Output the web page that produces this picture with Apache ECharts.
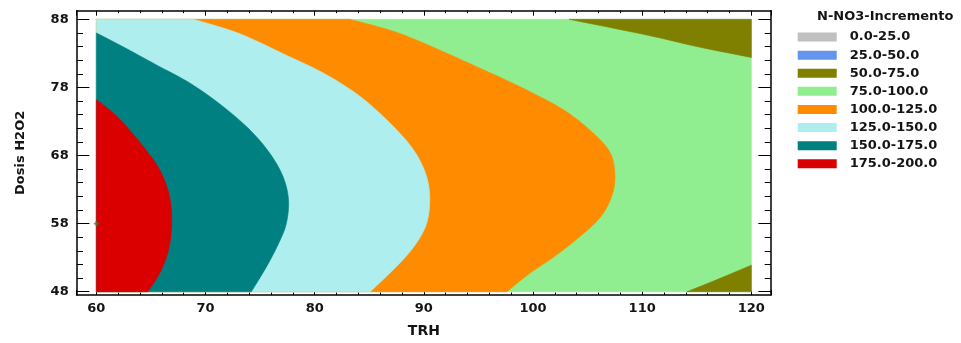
<!DOCTYPE html>
<html>
<head>
<meta charset="utf-8">
<script src="https://cdn.jsdelivr.net/npm/echarts@6/dist/echarts.min.js"></script>
<style>
  html, body { margin: 0; padding: 0; background: #fff; }
  #chart { width: 961px; height: 343px; }
</style>
</head>
<body>
<div id="chart"></div>
<script>
// Response surface of N-NO3 increment over TRH and H2O2 dose, drawn as filled contour bands.

// Legend ranges (N-NO3-Incremento)
const bandNames = ['0.0-25.0', '25.0-50.0', '50.0-75.0', '75.0-100.0',
                   '100.0-125.0', '125.0-150.0', '150.0-175.0', '175.0-200.0'];

// Extent of the studied region
const trhRange = [60, 120];
const dosisRange = [48, 88];

// Contour lines as [TRH, Dosis H2O2] points
const contour175 = [[60, 76.2], [61.2, 74.7], [62.4, 72.9], [64.3, 69.3], [65.8, 65.9],
                    [66.7, 62.0], [66.9, 58.0], [66.6, 54.1], [65.8, 50.7], [64.7, 48]];
const contour150 = [[60, 86.0], [62.4, 84.0], [65.5, 81.3], [68.6, 78.6], [71.6, 75.2],
                    [74.1, 71.7], [75.9, 68.3], [77.1, 64.9], [77.6, 61.5], [77.4, 58.0],
                    [76.7, 55.1], [75.6, 51.7], [74.2, 48]];
const contour125 = [[68.9, 88], [73.1, 85.9], [77.7, 82.5], [80.8, 80.1], [83.8, 77.1],
                    [86.3, 73.7], [88.6, 69.8], [89.9, 66.4], [90.5, 62.9], [90.4, 59.0],
                    [89.7, 56.1], [88.1, 52.7], [85.1, 48]];
const contour100 = [[83.2, 88], [86.9, 86.4], [89.7, 84.7], [94.2, 81.5], [98.8, 78.1],
                    [102.8, 74.7], [105.5, 71.3], [107.1, 68.3], [107.5, 64.9], [107.2, 62.0],
                    [106.2, 59.0], [104.3, 56.1], [101.9, 53.1], [99.7, 50.7], [97.6, 48]];
const contour75Top = [[103.3, 88], [110.4, 85.7], [115.3, 83.9], [120, 82.4]];
const contour75Bottom = [[114.1, 48], [117.2, 50.0], [120, 51.9]];

// Marked design point
const markedPoint = [[60, 58]];

const bandColors = ['#C0C0C0', '#6495ED', '#808000', '#90EE90',
                    '#FF8C00', '#AFEEEE', '#008080', '#DA0000'];

const [xLo, xHi] = trhRange;
const [yLo, yHi] = dosisRange;

// Each region: a contour line (smoothed when drawn) closed through the corners of the region
const regions = {
  '75.0-100.0': [{ curve: [], corners: [[xLo, yLo], [xHi, yLo], [xHi, yHi], [xLo, yHi]] }],
  '50.0-75.0': [{ curve: contour75Top, corners: [[xHi, yHi]] },
                { curve: contour75Bottom, corners: [[xHi, yLo]] }],
  '100.0-125.0': [{ curve: contour100, corners: [[xLo, yLo], [xLo, yHi]] }],
  '125.0-150.0': [{ curve: contour125, corners: [[xLo, yLo], [xLo, yHi]] }],
  '150.0-175.0': [{ curve: contour150, corners: [[xLo, yLo]] }],
  '175.0-200.0': [{ curve: contour175, corners: [[xLo, yLo]] }]
};

const FONT = 'DejaVu Sans';
const INK = '#141414';

// Catmull-Rom smoothing of a pixel polyline
function smoothPixels(pts, steps) {
  if (pts.length < 3) return pts.slice();
  const out = [pts[0]];
  for (let i = 0; i < pts.length - 1; i++) {
    const p0 = pts[Math.max(i - 1, 0)], p1 = pts[i], p2 = pts[i + 1], p3 = pts[Math.min(i + 2, pts.length - 1)];
    for (let s = 1; s <= steps; s++) {
      const t = s / steps, t2 = t * t, t3 = t2 * t;
      const f = (a, b, c, d) => 0.5 * ((2 * b) + (-a + c) * t + (2 * a - 5 * b + 4 * c - d) * t2 + (-a + 3 * b - 3 * c + d) * t3);
      out.push([f(p0[0], p1[0], p2[0], p3[0]), f(p0[1], p1[1], p2[1], p3[1])]);
    }
  }
  return out;
}

function regionSeries(name) {
  const parts = regions[name];
  const color = bandColors[bandNames.indexOf(name)];
  return {
    type: 'custom',
    name: name,
    xAxisIndex: 2,
    yAxisIndex: 2,
    itemStyle: { color: color },
    data: parts.map((_, i) => [i]),
    renderItem: function (params, api) {
      const part = parts[params.dataIndex];
      const curvePx = smoothPixels(part.curve.map(p => api.coord(p)), 8);
      const points = curvePx.concat(part.corners.map(p => api.coord(p)));
      return {
        type: 'polygon',
        shape: { points: points },
        style: { fill: color, stroke: color, lineWidth: 0.6 }
      };
    },
    silent: true,
    animation: false
  };
}

// Drawing order: lowest layer first
const drawOrder = ['75.0-100.0', '50.0-75.0', '100.0-125.0', '125.0-150.0', '150.0-175.0', '175.0-200.0'];
const series = drawOrder.map(regionSeries);
// Ranges with no area in the region still appear in the legend
['0.0-25.0', '25.0-50.0'].forEach(n => {
  series.unshift({
    type: 'custom', name: n, xAxisIndex: 2, yAxisIndex: 2,
    itemStyle: { color: bandColors[bandNames.indexOf(n)] },
    data: [], renderItem: () => null
  });
});
series.push({
  type: 'scatter',
  xAxisIndex: 2,
  yAxisIndex: 2,
  data: markedPoint,
  symbol: 'path://M2,0H4V2H6V4H4V6H2V4H0V2H2Z',
  symbolSize: 5,
  itemStyle: { color: '#2e8b2e' },
  silent: true,
  z: 10
});

const labelStyle = { fontFamily: FONT, fontWeight: 'bold', fontSize: 13, color: INK };
const frameLine = { show: true, onZero: false, lineStyle: { color: '#000', width: 1.5 } };

const chart = echarts.init(document.getElementById('chart'), null, { renderer: 'canvas' });
chart.setOption({
  animation: false,
  backgroundColor: '#fff',
  title: {
    text: 'N-NO3-Incremento',
    left: 817, top: 10, padding: 0,
    textStyle: { fontFamily: FONT, fontWeight: 'bold', fontSize: 13, color: INK }
  },
  legend: {
    orient: 'vertical',
    left: 797.7, top: 28, padding: 0,
    itemWidth: 39, itemHeight: 9, itemGap: 0,
    icon: 'rect',
    selectedMode: false,
    data: bandNames.map((n, i) => ({ name: n, itemStyle: { color: bandColors[i] } })),
    textStyle: { fontFamily: FONT, fontWeight: 'bold', fontSize: 13, color: INK,
                 lineHeight: 18.1, padding: [0, 0, 0, 8] }
  },
  grid: [
    // frame
    { left: 76.7, right: 190, top: 10.7, bottom: 43.7 },
    // studied region (Dosis 48..88)
    { left: 76.7, right: 190, top: 19.3, bottom: 51.3 }
  ],
  xAxis: [
    {
      type: 'value', gridIndex: 0, position: 'bottom',
      min: 58.2, max: 121.8, splitNumber: 6,
      axisLine: frameLine,
      axisTick: { show: true, inside: true, length: 5, lineStyle: { color: '#000', width: 1 } },
      minorTick: { show: true, splitNumber: 5, length: 2.5, lineStyle: { color: '#000', width: 1 } },
      axisLabel: Object.assign({ margin: 7, showMinLabel: false, showMaxLabel: false }, labelStyle),
      splitLine: { show: false },
      name: 'TRH', nameLocation: 'middle', nameGap: 29,
      nameTextStyle: { fontFamily: FONT, fontWeight: 'bold', fontSize: 14, color: INK }
    },
    {
      type: 'value', gridIndex: 0, position: 'top',
      min: 58.2, max: 121.8, splitNumber: 6,
      axisLine: frameLine,
      axisTick: { show: true, inside: true, length: 5, lineStyle: { color: '#000', width: 1 } },
      minorTick: { show: true, splitNumber: 5, length: 2.5, lineStyle: { color: '#000', width: 1 } },
      axisLabel: { show: false },
      splitLine: { show: false }
    },
    {
      type: 'value', gridIndex: 1, min: 58.2, max: 121.8, show: false
    }
  ],
  yAxis: [
    {
      type: 'value', gridIndex: 0, position: 'left',
      min: 46.8, max: 89.2,
      axisLine: frameLine,
      axisTick: { show: false }, axisLabel: { show: false }, splitLine: { show: false },
      name: 'Dosis H2O2', nameLocation: 'middle', nameGap: 50, nameRotate: 90,
      nameTextStyle: { fontFamily: FONT, fontWeight: 'bold', fontSize: 13, color: INK }
    },
    {
      type: 'value', gridIndex: 0, position: 'right',
      min: 46.8, max: 89.2,
      axisLine: frameLine,
      axisTick: { show: false }, axisLabel: { show: false }, splitLine: { show: false }
    },
    {
      type: 'value', gridIndex: 1, position: 'left',
      min: dosisRange[0], max: dosisRange[1], interval: 10,
      axisLine: { show: false, onZero: false },
      axisTick: { show: true, inside: true, length: 12.7, lineStyle: { color: '#000', width: 1 } },
      minorTick: { show: true, splitNumber: 5, length: 6.3, lineStyle: { color: '#000', width: 1 } },
      axisLabel: Object.assign({ margin: 8 }, labelStyle),
      splitLine: { show: false }
    },
    {
      type: 'value', gridIndex: 1, position: 'right',
      min: dosisRange[0], max: dosisRange[1], interval: 10,
      axisLine: { show: false, onZero: false },
      axisTick: { show: true, inside: true, length: 12.7, lineStyle: { color: '#000', width: 1 } },
      minorTick: { show: true, splitNumber: 5, length: 6.3, lineStyle: { color: '#000', width: 1 } },
      axisLabel: { show: false },
      splitLine: { show: false }
    }
  ],
  series: series
});
</script>
</body>
</html>
